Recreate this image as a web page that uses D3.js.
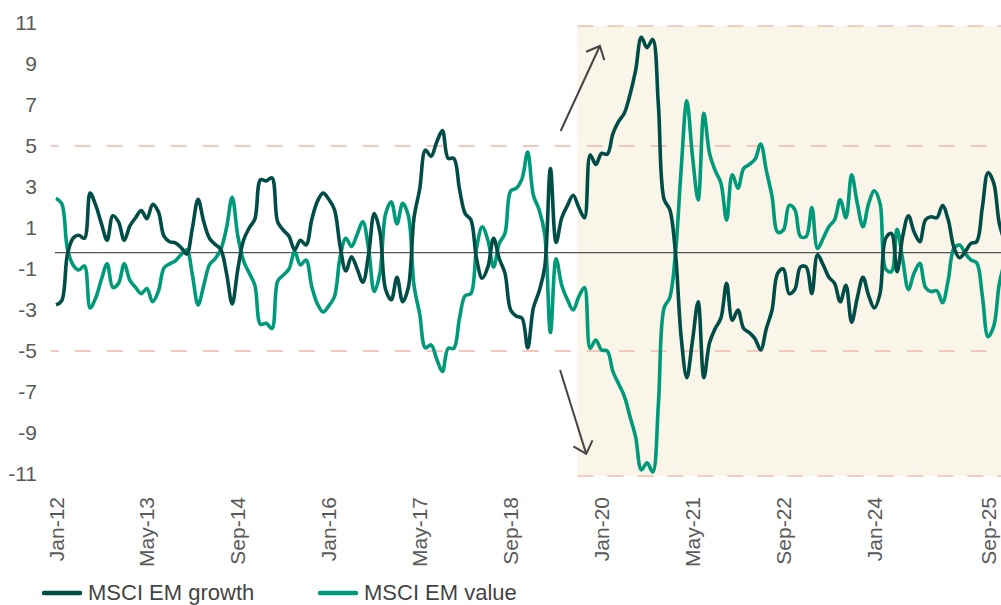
<!DOCTYPE html>
<html>
<head>
<meta charset="utf-8">
<script src="https://cdn.jsdelivr.net/npm/d3@7"></script>
<style>
  body { margin: 0; background: #fff; }
  svg { display: block; font-family: "Liberation Sans", Arial, sans-serif; }
</style>
</head>
<body>
<div id="chart"></div>
<script>
// monthly observations, Jan-12 .. Dec-25
var growth = [
  -2.75,-2.55,-0.3,0.5,0.65,0.5,2.7,2.1,1.2,0.4,
  1.6,1.3,0.4,1.1,1.5,1.85,1.45,2.15,1.8,0.6,
  0.33,0.28,0.05,-0.27,1.0,2.4,1.3,0.5,0.2,-0.05,
  -1.2,-2.7,-1.0,0.4,1.0,1.45,3.35,3.3,3.45,1.3,
  0.9,0.6,-0.07,0.4,0.17,1.4,2.3,2.7,2.4,1.9,
  0.1,-1.1,-0.4,-1.0,-1.65,-0.3,1.7,0.8,-2.0,-2.5,
  -1.4,-2.6,-1.9,1.5,2.9,4.8,4.5,5.2,5.75,4.4,
  4.4,2.9,1.7,1.4,-0.5,-1.45,-0.9,0.5,-0.5,-1.2,
  -3.0,-3.3,-3.4,-4.85,-2.9,-2.1,-0.9,3.9,0.3,1.5,
  2.1,2.6,2.0,1.5,4.56,4.1,4.64,4.6,5.6,6.2,
  6.6,7.5,8.7,10.3,9.8,10.2,7.0,2.4,1.9,-0.2,
  -4.3,-6.3,-4.5,-2.6,-6.3,-4.6,-3.9,-3.4,-1.7,-3.5,
  -3.0,-3.9,-4.1,-4.4,-4.95,-3.9,-3.0,-1.2,-1.0,-2.2,
  -2.0,-0.9,-0.9,-2.2,-0.3,-0.8,-1.4,-1.7,-2.6,-1.8,
  -3.6,-2.4,-1.4,-2.3,-2.9,-2.2,0.5,0.74,-1.13,0.6,
  1.6,0.8,0.33,1.4,1.55,1.5,2.1,1.4,0.05,-0.45,
  -0.15,0.25,0.33,2.0,3.7,3.2,1.2,0.3
]

var value = [
  2.45,2.2,0.0,-0.8,-1.05,-0.85,-2.9,-2.4,-1.5,-0.75,
  -1.9,-1.7,-0.75,-1.55,-1.9,-2.2,-1.95,-2.6,-2.1,-0.95,
  -0.75,-0.6,-0.3,-0.07,-1.3,-2.75,-1.8,-0.8,-0.5,-0.05,
  1.0,2.5,0.6,-0.6,-1.2,-1.8,-3.7,-3.65,-3.9,-1.6,
  -1.3,-1.0,-0.15,-0.8,-0.56,-1.85,-2.7,-3.1,-2.8,-2.35,
  -0.4,0.5,0.1,0.7,1.3,0.0,-2.1,-1.2,1.7,2.28,
  1.2,2.2,1.6,-1.8,-3.2,-4.85,-4.7,-5.4,-6.0,-4.87,
  -4.87,-3.4,-2.3,-2.2,0.0,1.06,0.4,-0.9,0.25,0.74,
  2.8,2.94,3.4,4.7,2.6,1.9,0.7,-4.1,-0.5,-1.8,
  -2.5,-3.0,-2.35,-1.9,-4.87,-4.46,-4.95,-5.0,-6.0,-6.6,
  -7.2,-8.2,-9.2,-10.8,-10.45,-10.9,-7.6,-2.9,-2.4,-0.24,
  3.83,7.2,4.5,2.37,6.6,4.64,3.8,3.2,1.39,3.6,
  2.94,3.9,4.1,4.35,5.1,3.8,2.53,0.8,0.9,2.1,
  1.9,0.58,0.58,2.0,0.0,0.5,1.06,1.4,2.37,1.5,
  3.59,2.2,1.06,2.2,2.82,2.2,-1.0,-1.13,0.94,-0.56,
  -2.0,-1.2,-0.72,-1.9,-2.1,-2.06,-2.64,-1.54,0.0,0.17,
  -0.24,-0.56,-0.69,-2.3,-4.3,-3.8,-1.7,-0.6
]

var tickLabels = ["Jan-12","May-13","Sep-14","Jan-16","May-17","Sep-18","Jan-20","May-21","Sep-22","Jan-24","Sep-25"]
var tickMonths = [0,16,32,48,64,80,96,112,128,144,164]
var yTicks = [-11,-9,-7,-5,-3,-1,1,3,5,7,9,11]
var bands = [5,-5]
var shade = { start: 91.75, top: 10.85, bottom: -11.1 }
var baseline = -0.2
var seriesNames = ["MSCI EM growth","MSCI EM value"]
var colors = ["#004c46","#009a7b"]

var W = 1001, H = 605

var x = d3.scaleLinear().domain([0,164]).range([56,988])
var y = d3.scaleLinear().domain([-5,5]).range([351,146])

var svg = d3.select("#chart").append("svg")
  .attr("width",W)
  .attr("height",H)

svg.append("defs").append("clipPath").attr("id","clip")
  .append("rect").attr("x",0).attr("y",0).attr("width",W).attr("height",H)

var marker = svg.select("defs").append("marker")
  .attr("id","arrow")
  .attr("markerUnits","userSpaceOnUse")
  .attr("viewBox","-14 -12 16 24")
  .attr("markerWidth",16)
  .attr("markerHeight",24)
  .attr("refX",0)
  .attr("refY",0)
  .attr("orient","auto")
marker.append("path")
  .attr("d","M-11,-10L0,0L-11,10")
  .attr("fill","none")
  .attr("stroke","#444")
  .attr("stroke-width",2)

// shaded period
svg.append("rect")
  .attr("x",x(shade.start))
  .attr("y",y(shade.top))
  .attr("width",W - x(shade.start))
  .attr("height",y(shade.bottom) - y(shade.top))
  .attr("fill","#f9f5e8")

// dashed bands
svg.selectAll(".band")
  .data(bands)
  .enter()
  .append("line")
  .attr("x1",50.7)
  .attr("x2",W)
  .attr("y1",d=>y(d))
  .attr("y2",d=>y(d))
  .attr("stroke","#f5c6bb")
  .attr("stroke-width",1.8)
  .attr("stroke-dasharray","16,16")
  .attr("stroke-dashoffset",8)

svg.selectAll(".edge")
  .data([shade.top, shade.bottom])
  .enter()
  .append("line")
  .attr("x1",x(shade.start))
  .attr("x2",W)
  .attr("y1",d=>y(d))
  .attr("y2",d=>y(d))
  .attr("stroke","#f5c6bb")
  .attr("stroke-width",1.8)
  .attr("stroke-dasharray","16,14")

// zero line
svg.append("line")
  .attr("x1",55)
  .attr("x2",W)
  .attr("y1",y(baseline))
  .attr("y2",y(baseline))
  .attr("stroke","#555")
  .attr("stroke-width",1.1)

// y tick labels
svg.selectAll(".ylab")
  .data(yTicks)
  .enter()
  .append("text")
  .text(d=>d)
  .attr("x",37)
  .attr("y",d=>y(d))
  .attr("dy","0.35em")
  .attr("text-anchor","end")
  .attr("font-size",21)
  .attr("fill","#5a5a5a")

// x tick labels
svg.selectAll(".xlab")
  .data(tickMonths)
  .enter()
  .append("text")
  .text((d,i)=>tickLabels[i])
  .attr("transform",d=>"translate(" + x(d) + ",497) rotate(-90)")
  .attr("dy","0.36em")
  .attr("text-anchor","end")
  .attr("font-size",21)
  .attr("fill","#5a5a5a")

// lines
var line = d3.line()
  .x((d,i)=>x(i))
  .y(d=>y(d))
  .curve(d3.curveCatmullRom.alpha(0.5))

var g = svg.append("g").attr("clip-path","url(#clip)")

g.append("path")
  .datum(value)
  .attr("d",line)
  .attr("fill","none")
  .attr("stroke",colors[1])
  .attr("stroke-width",3.6)
  .attr("stroke-linejoin","round")

g.append("path")
  .datum(growth)
  .attr("d",line)
  .attr("fill","none")
  .attr("stroke",colors[0])
  .attr("stroke-width",3.6)
  .attr("stroke-linejoin","round")

// arrows
var arrows = [
  { from: [88.8, 5.73], to: [95.7, 9.88] },
  { from: [88.7, -5.93], to: [93.3, -10.02] }
]
svg.selectAll(".arrow")
  .data(arrows)
  .enter()
  .append("line")
  .attr("x1",d=>x(d.from[0]))
  .attr("y1",d=>y(d.from[1]))
  .attr("x2",d=>x(d.to[0]))
  .attr("y2",d=>y(d.to[1]))
  .attr("stroke","#444")
  .attr("stroke-width",2)
  .attr("marker-end","url(#arrow)")

// legend
var legendX = [44, 320]
svg.selectAll(".legline")
  .data(seriesNames)
  .enter()
  .append("line")
  .attr("x1",(d,i)=>legendX[i])
  .attr("x2",(d,i)=>legendX[i] + 36)
  .attr("y1",593)
  .attr("y2",593)
  .attr("stroke",(d,i)=>colors[i])
  .attr("stroke-width",4.5)
  .attr("stroke-linecap","round")

svg.selectAll(".legtext")
  .data(seriesNames)
  .enter()
  .append("text")
  .text(d=>d)
  .attr("x",(d,i)=>legendX[i] + 44)
  .attr("y",600)
  .attr("font-size",22)
  .attr("fill","#444")
</script>
</body>
</html>
